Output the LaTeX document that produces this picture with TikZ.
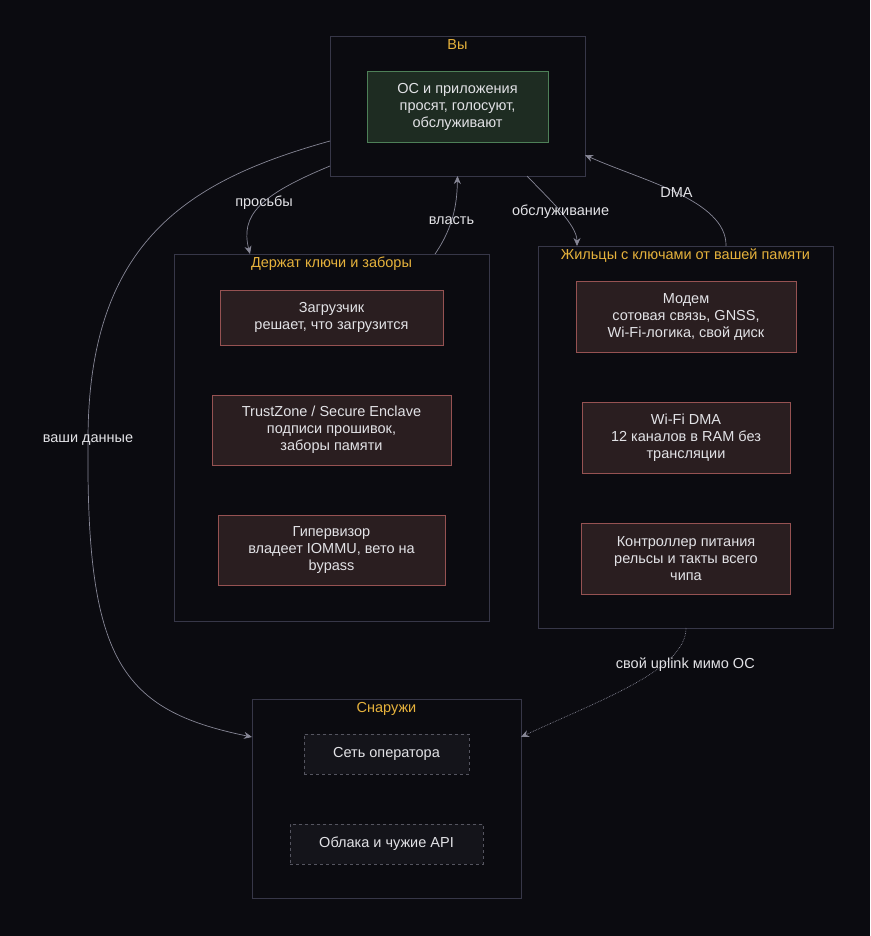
\documentclass[tikz,border=0pt]{standalone}
\usepackage{fontspec}
\setmainfont{Liberation Sans}
\usepackage{tikz}
\usetikzlibrary{positioning}
\usetikzlibrary{arrows.meta}
\definecolor{bgdark}{RGB}{11,11,16}
\definecolor{clusterline}{RGB}{55,55,72}
\definecolor{titleyellow}{RGB}{230,178,60}
\definecolor{textgray}{RGB}{226,226,230}
\definecolor{ownerfill}{RGB}{30,44,34}
\definecolor{ownerline}{RGB}{78,128,88}
\definecolor{keeperfill}{RGB}{42,30,32}
\definecolor{keeperline}{RGB}{150,82,82}
\definecolor{remotefill}{RGB}{20,20,26}
\definecolor{remoteline}{RGB}{85,85,96}
\definecolor{edgegray}{RGB}{135,135,150}
\tikzset{
    chip diagram/.style={
            x=1pt,y=1pt,
            node distance=50pt,
            font=\fontsize{14.5}{17}\selectfont,
            text=textgray,
            cluster/.style={draw=clusterline, line width=0.8pt, inner sep=0pt, outer sep=0pt},
            title/.style={text=titleyellow, inner sep=0pt},
            owner/.style={draw=ownerline, fill=ownerfill, line width=0.8pt, align=center, outer sep=0pt},
            keeper/.style={draw=keeperline, fill=keeperfill, line width=0.8pt, align=center, outer sep=0pt},
            remote/.style={draw=remoteline, fill=remotefill, line width=0.8pt, dashed, align=center, outer sep=0pt},
            arrow/.style={draw=edgegray, line width=0.7pt, -{Stealth[length=8pt,width=7pt,fill=edgegray]}},
            bypass/.style={arrow, densely dotted},
            edgelabel/.style={text=textgray, inner sep=1pt}
        }
    }
\begin{document}
\begin{tikzpicture}[chip diagram]
    \fill [bgdark] (0,0) rectangle (870,-936);
    \useasboundingbox (0,0) rectangle (870,-936);

    % clusters
    \node [cluster, minimum width=255pt, minimum height=140pt] (you) at (457.5,-106) {};
    \node [cluster, minimum width=315pt, minimum height=367pt] (keys) at (331.5,-437.5) {};
    \node [cluster, minimum width=295pt, minimum height=382pt] (tenants) at (685.5,-437) {};
    \node [cluster, minimum width=269pt, minimum height=199pt] (outside) at (386.5,-798.5) {};

    \node [title, below=3pt of you.north] (youT) {Вы};
    \node [title, below=3pt of keys.north] (keysT) {Держат ключи и заборы};
    \node [title, below=3pt of tenants.north] (tenantsT) {Жильцы с ключами от вашей памяти};
    \node [title, below=3pt of outside.north] (outsideT) {Снаружи};

    % nodes
    \node [owner, minimum width=181pt, minimum height=71pt] (os) at (457.5,-106.5) {ОС и приложения\\просят, голосуют,\\обслуживают};

    \node [keeper, minimum width=223pt, minimum height=55pt] (boot) at (331.5,-317.5) {Загрузчик\\решает, что загрузится};
    \node [keeper, minimum width=239pt, minimum height=70pt, below=of boot] (tz) {TrustZone / Secure Enclave\\подписи прошивок,\\заборы памяти};
    \node [keeper, minimum width=227pt, minimum height=70pt, below=of tz] (hyp) {Гипервизор\\владеет IOMMU, вето на\\bypass};

    \node [keeper, minimum width=220pt, minimum height=71pt] (modem) at (686,-316.5) {Модем\\сотовая связь, GNSS,\\Wi-Fi-логика, свой диск};
    \node [keeper, minimum width=208pt, minimum height=71pt, below=of modem] (wifi) {Wi-Fi DMA\\12 каналов в RAM без\\трансляции};
    \node [keeper, minimum width=209pt, minimum height=71pt, below=of wifi] (pmic) {Контроллер питания\\рельсы и такты всего\\чипа};

    \node [remote, minimum width=165pt, minimum height=40pt] (net) at (386.5,-754) {Сеть оператора};
    \node [remote, minimum width=193pt, minimum height=40pt, below=of net] (cloud) {Облака и чужие API};

    % edges
    \draw [arrow] ([yshift=10pt]you.south west) .. controls (260,-195) and (240,-215) .. ([xshift=76pt]keys.north west) node [edgelabel, pos=0.45] {просьбы};
    \draw [arrow] ([xshift=-54pt]keys.north east) .. controls (455,-225) and (457,-200) .. (you.south) node [edgelabel, pos=0.4] {власть};
    \draw [arrow] ([xshift=-58pt]you.south east) .. controls (550,-200) and (577,-225) .. ([xshift=39pt]tenants.north west) node [edgelabel, midway] {обслуживание};
    \draw [arrow] ([xshift=-107pt]tenants.north east) .. controls (727,-200) and (640,-180) .. ([yshift=21pt]you.south east) node [edgelabel, midway] {DMA};
    \draw [arrow] ([yshift=35pt]you.south west) .. controls (190,-180) and (88,-240) .. (88,-440) node [edgelabel] {ваши данные}
        .. controls (86,-660) and (120,-710) .. ([yshift=-38pt]outside.north west);
    \draw [bypass] ([xshift=148pt]tenants.south west) .. controls (686,-670) and (600,-700) .. ([yshift=-38pt]outside.north east) node [edgelabel, pos=0.25, xshift=14pt, yshift=-7pt] {свой uplink мимо ОС};
\end{tikzpicture}
\end{document}
